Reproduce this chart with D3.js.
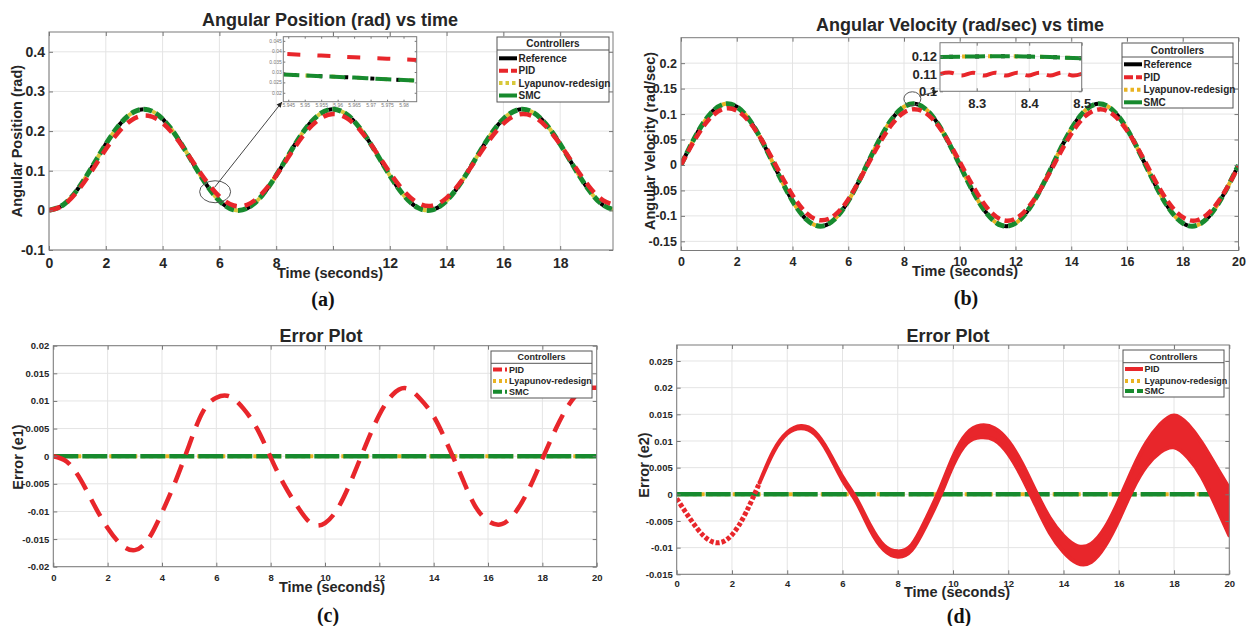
<!DOCTYPE html>
<html>
<head>
<meta charset="utf-8">
<title>Controller comparison</title>
<script src="https://cdn.jsdelivr.net/npm/d3@7"></script>
<style>
body { margin: 0; background: #fff; }
svg text { font-family: "Liberation Sans", Arial, sans-serif; font-weight: bold; fill: #262626; }
</style>
</head>
<body>
<script>
// sample times (seconds)
var time = [0,0.5,1,1.5,2,2.5,3,3.5,4,4.5,5,5.5,6,6.5,7,7.5,8,8.5,9,9.5,10,
            10.5,11,11.5,12,12.5,13,13.5,14,14.5,15,15.5,16,16.5,17,17.5,18,18.5,19,19.5,20];

var controllers = ["Reference", "PID", "Lyapunov-redesign", "SMC"];

// (a) angular position (rad)
var posRef = [0,0.0139,0.0525,0.1076,0.167,0.2176,0.2488,0.2535,0.2306,0.1854,0.1275,
              0.0696,0.0244,0.0015,0.0062,0.0374,0.0881,0.1474,0.2025,0.2411,0.255,
              0.2411,0.2025,0.1474,0.0881,0.0374,0.0062,0.0015,0.0244,0.0696,0.1275,
              0.1854,0.2306,0.2535,0.2488,0.2176,0.167,0.1076,0.0525,0.0139,0];
var posPid = [0,0.0129,0.0483,0.0988,0.154,0.2016,0.2318,0.2385,0.2204,0.1809,0.1295,
              0.0776,0.035,0.0123,0.0148,0.0424,0.0879,0.1422,0.1933,0.2289,0.2429,
              0.2319,0.1985,0.1494,0.0956,0.0486,0.0185,0.0119,0.0316,0.0718,0.1241,
              0.1766,0.2189,0.2412,0.2386,0.2116,0.1665,0.1126,0.062,0.0259,0.0124];
// Lyapunov-redesign and SMC lie on the reference at this scale
var posLyap = posRef, posSmc = posRef;

// (b) angular velocity (rad/sec)
var velRef = [0,0.0546,0.0972,0.1188,0.1143,0.085,0.0371,-0.0188,-0.0707,-0.1071,-0.1202,
              -0.1071,-0.0707,-0.0188,0.0371,0.085,0.1143,0.1188,0.0972,0.0546,0,
              -0.0546,-0.0972,-0.1188,-0.1143,-0.085,-0.0371,0.0188,0.0707,0.1071,0.1202,
              0.1071,0.0707,0.0188,-0.0371,-0.085,-0.1143,-0.1188,-0.0972,-0.0546,0];
var velPid = [0,0.0499,0.0893,0.1097,0.1067,0.0815,0.0393,-0.0108,-0.0592,-0.0945,-0.1087,
              -0.0993,-0.0677,-0.0199,0.0309,0.075,0.1031,0.1088,0.0917,0.0546,0.0062,
              -0.0441,-0.0854,-0.1075,-0.1055,-0.0805,-0.0379,0.013,0.0614,0.0958,0.1092,
              0.0991,0.0677,0.0216,-0.0296,-0.0745,-0.1025,-0.1088,-0.0907,-0.0529,-0.0033];
var velLyap = velRef, velSmc = velRef;

// (c) position error e1
var e1Pid = [0,-0.001,-0.0042,-0.0088,-0.013,-0.016,-0.017,-0.015,-0.0102,-0.0045,0.002,
             0.008,0.0106,0.0108,0.0086,0.005,-0.0002,-0.0052,-0.0092,-0.0122,-0.0121,
             -0.0092,-0.004,0.002,0.0075,0.0112,0.0123,0.0104,0.0072,0.0022,-0.0034,
             -0.0088,-0.0117,-0.0123,-0.0102,-0.006,-0.0005,0.005,0.0095,0.012,0.0124];

// (d) velocity error e2 and half width of its chattering band
var e2Pid = [-0.0008,-0.0047,-0.0079,-0.0091,-0.0076,-0.0035,0.0022,0.008,0.0115,0.0126,0.0115,
             0.0078,0.003,-0.0011,-0.0062,-0.01,-0.0112,-0.01,-0.0055,0,0.0062,
             0.0105,0.0118,0.0113,0.0088,0.0045,-0.0008,-0.0058,-0.0093,-0.0113,-0.011,
             -0.008,-0.003,0.0028,0.0075,0.0105,0.0118,0.01,0.0065,0.0017,-0.0033];
var e2Chatter = [0,0,0,0,0,0,0,0.0001,0.0001,0.0002,0.0002,
                 0.0002,0.0003,0.0003,0.0004,0.0004,0.0005,0.0005,0.0006,0.0007,0.0008,
                 0.0009,0.0011,0.0011,0.0012,0.0013,0.0013,0.0014,0.0015,0.0016,0.0017,
                 0.0017,0.0018,0.0019,0.0022,0.0026,0.003,0.0031,0.0032,0.0037,0.0044];
var zeroT = [0, 20], errLyap = [0, 0], errSmc = [0, 0];

// zoom insets
var insetAT = [5.9435, 5.955, 5.965, 5.975, 5.984];
var insetARef = [0.0288, 0.028, 0.0273, 0.0265, 0.0258];
var insetAPid = [0.0387, 0.0379, 0.0371, 0.0364, 0.0358];
var insetBT = [8.23, 8.3, 8.35, 8.4, 8.45, 8.5];
var insetBRef = [0.1198, 0.1201, 0.1202, 0.12, 0.1196, 0.119];
var insetBPidT = [8.23,8.251,8.272,8.293,8.314,8.335,8.356,8.377,8.398,8.419,8.44,8.461,8.482,8.503];
var insetBPid = [0.1099,0.1107,0.1091,0.1107,0.1091,0.1107,0.1091,0.1107,0.1091,0.1107,0.1091,0.1107,0.1091,0.1104];

var xTicks = [0,2,4,6,8,10,12,14,16,18,20];
var posTicks = [-0.1,0,0.1,0.2,0.3,0.4];
var velTicks = [-0.15,-0.1,-0.05,0,0.05,0.1,0.15,0.2];
var e1Ticks = [-0.02,-0.015,-0.01,-0.005,0,0.005,0.01,0.015,0.02];
var e2Ticks = [-0.015,-0.01,-0.005,0,0.005,0.01,0.015,0.02,0.025];
var insetAXTicks = [5.945,5.95,5.955,5.96,5.965,5.97,5.975,5.98];
var insetAYTicks = [0.02,0.025,0.03,0.035,0.04,0.045];
var insetBXTicks = [8.3,8.4,8.5];
var insetBYTicks = [0.1,0.11,0.12];

var RED = "#e8262b", GREEN = "#178a2e", BLACK = "#000";

var svg = d3.select("body").append("svg").attr("width", 1247).attr("height", 626);
var clipN = 0;

function makePanel(p) {
  var x = d3.scaleLinear().domain(p.xDom).range([p.L, p.R]);
  var y = d3.scaleLinear().domain(p.yDom).range([p.B, p.T]);
  var g = svg.append("g");
  g.append("rect").attr("x", p.L).attr("y", p.T).attr("width", p.R - p.L).attr("height", p.B - p.T)
    .attr("fill", "#fff");
  if (p.grid !== false) {
    g.selectAll(null).data(p.xTicks).join("line")
      .attr("x1", d => x(d)).attr("x2", d => x(d)).attr("y1", p.T).attr("y2", p.B)
      .attr("stroke", "#e4e4e4");
    g.selectAll(null).data(p.yTicks).join("line")
      .attr("y1", d => y(d)).attr("y2", d => y(d)).attr("x1", p.L).attr("x2", p.R)
      .attr("stroke", "#e4e4e4");
  }
  var id = "clip" + (clipN++);
  svg.append("clipPath").attr("id", id).append("rect")
    .attr("x", p.L).attr("y", p.T).attr("width", p.R - p.L).attr("height", p.B - p.T);
  var plot = g.append("g").attr("clip-path", "url(#" + id + ")");
  return {x: x, y: y, g: g, plot: plot, p: p};
}

function finishPanel(pl) {
  var p = pl.p, g = pl.g.append("g");
  function style(a) {
    a.attr("font-family", null).attr("font-size", p.fs);
    a.select(".domain").remove();
    a.selectAll(".tick line").attr("stroke", "#777");
    if (p.thin) a.selectAll("text").style("font-weight", "normal").style("fill", "#777");
  }
  g.append("g").attr("transform", "translate(0," + p.B + ")")
    .call(d3.axisBottom(pl.x).tickValues(p.xTicks).tickFormat(p.xFmt || String).tickSize(-p.tk).tickPadding(p.xPad))
    .call(style);
  g.append("g").attr("transform", "translate(0," + p.T + ")")
    .call(d3.axisTop(pl.x).tickValues(p.xTicks).tickFormat("").tickSize(-p.tk))
    .call(style);
  g.append("g").attr("transform", "translate(" + p.L + ",0)")
    .call(d3.axisLeft(pl.y).tickValues(p.yTicks).tickFormat(String).tickSize(-p.tk).tickPadding(p.yPad))
    .call(style);
  g.append("g").attr("transform", "translate(" + p.R + ",0)")
    .call(d3.axisRight(pl.y).tickValues(p.yTicks).tickFormat("").tickSize(-p.tk))
    .call(style);
  g.append("rect").attr("x", p.L).attr("y", p.T).attr("width", p.R - p.L).attr("height", p.B - p.T)
    .attr("fill", "none").attr("stroke", "#7a7a7a").attr("stroke-width", 1);
}

function drawLine(pl, ts, vs, st, curve) {
  var line = d3.line().x(d => pl.x(d[0])).y(d => pl.y(d[1])).curve(curve || d3.curveNatural);
  pl.plot.append("path").datum(d3.zip(ts, vs))
    .attr("d", line).attr("fill", "none")
    .attr("stroke", st.c).attr("stroke-width", st.w)
    .attr("stroke-dasharray", st.dash || null)
    .attr("stroke-dashoffset", st.off || 0);
}

function text(t, x, y, size, rot, family) {
  var el = svg.append("text").text(t)
    .attr("text-anchor", "middle").attr("dominant-baseline", "central")
    .attr("font-size", size);
  if (family) el.style("font-family", family).style("fill", "#111");
  if (rot) el.attr("transform", "translate(" + x + "," + y + ") rotate(-90)");
  else el.attr("x", x).attr("y", y);
}

function legend(b, names, samples, fs) {
  var g = svg.append("g");
  g.append("rect").attr("x", b.L).attr("y", b.T).attr("width", b.R - b.L).attr("height", b.B - b.T)
    .attr("fill", "#fff").attr("stroke", "#555");
  g.append("line").attr("x1", b.L).attr("x2", b.R).attr("y1", b.sep).attr("y2", b.sep).attr("stroke", "#555");
  g.append("text").text("Controllers").attr("x", (b.L + b.R) / 2).attr("y", b.head)
    .attr("text-anchor", "middle").attr("dominant-baseline", "central").attr("font-size", fs);
  names.forEach(function(n, i) {
    var s = samples[n];
    g.append("line").attr("x1", b.s0).attr("x2", b.s1).attr("y1", b.rows[i]).attr("y2", b.rows[i])
      .attr("stroke", s.c).attr("stroke-width", s.w).attr("stroke-dasharray", s.dash || null);
    g.append("text").text(n).attr("x", b.tx).attr("y", b.rows[i])
      .attr("dominant-baseline", "central").attr("font-size", fs);
  });
}

function callout(cx, cy, rx, ry, x0, y0, x1, y1) {
  svg.append("ellipse").attr("cx", cx).attr("cy", cy).attr("rx", rx).attr("ry", ry)
    .attr("fill", "none").attr("stroke", "#555").attr("stroke-width", 1);
  svg.append("line").attr("x1", x0).attr("y1", y0).attr("x2", x1).attr("y2", y1)
    .attr("stroke", "#444").attr("stroke-width", 1);
  var a = Math.atan2(y1 - y0, x1 - x0), L = 6, s = 0.45;
  svg.append("path").attr("fill", "#222")
    .attr("d", "M" + x1 + "," + y1 +
      "L" + (x1 - L * Math.cos(a - s)) + "," + (y1 - L * Math.sin(a - s)) +
      "L" + (x1 - L * Math.cos(a + s)) + "," + (y1 - L * Math.sin(a + s)) + "Z");
}

// ---------- (a) angular position ----------
var stA = {
  ref: {c: BLACK, w: 4, dash: "4,22", off: -9},
  lyap: {c: "#d8c83a", w: 4, dash: "4,22", off: -22},
  pid: {c: RED, w: 4.5, dash: "12,8"},
  smc: {c: GREEN, w: 5, dash: "9,4"}
};
var pa = makePanel({L: 49, R: 613, T: 32, B: 250, xDom: [0, 19.86], yDom: [-0.1, 0.45],
  xTicks: xTicks.slice(0, 10), yTicks: posTicks, fs: 14, tk: 4, xPad: 8, yPad: 4,
  xFmt: d => d === 10 ? "" : d});
drawLine(pa, time, posRef, stA.ref);
drawLine(pa, time, posLyap, stA.lyap);
drawLine(pa, time, posSmc, stA.smc);
drawLine(pa, time, posPid, stA.pid);
finishPanel(pa);
text("Angular Position (rad) vs time", 330, 20, 18);
text("Time (seconds)", 330, 273, 14.5);
text("Angular Position (rad)", 17, 141, 14.5, true);
text("(a)", 323, 299, 20, false, '"Liberation Serif", "Times New Roman", serif');
legend({L: 497, R: 609, T: 37, B: 102, sep: 50, head: 43.5, rows: [58.3, 70.7, 83, 95.5],
        s0: 499, s1: 517, tx: 518.5}, controllers,
  {"Reference": {c: BLACK, w: 4}, "PID": {c: RED, w: 4, dash: "9,3"},
   "Lyapunov-redesign": {c: "#d8c83a", w: 4, dash: "3.5,3"}, "SMC": {c: GREEN, w: 4}}, 10);

var ia = makePanel({L: 283.3, R: 416.7, T: 36.7, B: 101.7, xDom: [5.9435, 5.984], yDom: [0.0157, 0.047],
  xTicks: insetAXTicks, yTicks: insetAYTicks, fs: 5, tk: 2, xPad: 2, yPad: 1.5, grid: false, thin: true});
drawLine(ia, insetAT, insetARef, stA.ref);
drawLine(ia, insetAT, insetARef, stA.lyap);
drawLine(ia, insetAT, insetARef, {c: GREEN, w: 4, dash: "16,7"});
drawLine(ia, insetAT, insetAPid, {c: RED, w: 4, dash: "13,17", off: -4});
finishPanel(ia);
callout(pa.x(5.85), pa.y(0.047), 15.5, 11, pa.x(5.83), pa.y(0.058), 282, 102);

// ---------- (b) angular velocity ----------
var stB = {
  ref: {c: BLACK, w: 4, dash: "4,22", off: -9},
  lyap: {c: "#e9b322", w: 4, dash: "4,22", off: -22},
  pid: {c: RED, w: 4.5, dash: "10,5"},
  smc: {c: GREEN, w: 5, dash: "9,4"}
};
var pb = makePanel({L: 681, R: 1238.5, T: 37.7, B: 250.5, xDom: [0, 20], yDom: [-0.168, 0.25],
  xTicks: xTicks, yTicks: velTicks, fs: 12.5, tk: 4, xPad: 7, yPad: 4});
drawLine(pb, time, velRef, stB.ref);
drawLine(pb, time, velLyap, stB.lyap);
drawLine(pb, time, velSmc, stB.smc);
drawLine(pb, time, velPid, stB.pid);
finishPanel(pb);
text("Angular Velocity (rad/sec) vs time", 960, 25, 18);
text("Time (seconds)", 965, 271, 14.5);
text("Angular Velocity (rad/sec)", 650, 141, 14.5, true);
text("(b)", 966, 298, 20, false, '"Liberation Serif", "Times New Roman", serif');
legend({L: 1122, R: 1233, T: 43, B: 108, sep: 57, head: 50.5, rows: [64.3, 77.3, 89.7, 102.3],
        s0: 1124, s1: 1142, tx: 1143.5}, controllers,
  {"Reference": {c: BLACK, w: 4}, "PID": {c: RED, w: 4, dash: "9,3"},
   "Lyapunov-redesign": {c: "#e9b322", w: 4, dash: "3.5,3"}, "SMC": {c: GREEN, w: 4}}, 10);

var ib = makePanel({L: 940, R: 1081.7, T: 42.7, B: 91.3, xDom: [8.23, 8.5], yDom: [0.1, 0.128],
  xTicks: insetBXTicks, yTicks: insetBYTicks, fs: 13, tk: 3, xPad: 7, yPad: 3});
drawLine(ib, insetBT, insetBRef, stB.ref);
drawLine(ib, insetBT, insetBRef, stB.lyap);
drawLine(ib, insetBT, insetBRef, {c: GREEN, w: 4, dash: "20,5"});
drawLine(ib, insetBPidT, insetBPid, {c: RED, w: 4, dash: "14,8"});
finishPanel(ib);
callout(pb.x(8.3), pb.y(0.13), 8.5, 7, pb.x(8.55), pb.y(0.135), 938, 91);

// ---------- (c) error e1 ----------
var pc = makePanel({L: 53.3, R: 596.7, T: 345.7, B: 566.7, xDom: [0, 20], yDom: [-0.02, 0.02],
  xTicks: xTicks, yTicks: e1Ticks, fs: 9.5, tk: 4, xPad: 8, yPad: 4});
drawLine(pc, zeroT, errLyap, {c: "#e9b322", w: 4, dash: "4,4"}, d3.curveLinear);
drawLine(pc, zeroT, errSmc, {c: GREEN, w: 4.5, dash: "25,4"}, d3.curveLinear);
drawLine(pc, time, e1Pid, {c: RED, w: 4.5, dash: "19,11"});
finishPanel(pc);
text("Error Plot", 321, 336, 18);
text("Time (seconds)", 332, 587, 14.5);
text("Error (e1)", 18, 457, 14.5, true);
text("(c)", 328, 615, 20, false, '"Liberation Serif", "Times New Roman", serif');
legend({L: 491, R: 592, T: 351, B: 398, sep: 363.3, head: 357.3, rows: [369.5, 381, 391.7],
        s0: 493, s1: 507, tx: 509}, controllers.slice(1),
  {"PID": {c: RED, w: 4, dash: "9,3"}, "Lyapunov-redesign": {c: "#e9b322", w: 4, dash: "3,3"},
   "SMC": {c: GREEN, w: 4, dash: "9,3"}}, 9);

// ---------- (d) error e2 ----------
var pd = makePanel({L: 676.7, R: 1229.3, T: 345, B: 574.3, xDom: [0, 20], yDom: [-0.015, 0.028],
  xTicks: xTicks, yTicks: e2Ticks, fs: 9.5, tk: 4, xPad: 6, yPad: 4});
drawLine(pd, zeroT, errLyap, {c: "#e9b322", w: 4, dash: "4,4"}, d3.curveLinear);
drawLine(pd, zeroT, errSmc, {c: GREEN, w: 4.5, dash: "25,4"}, d3.curveLinear);
var e2Rows = d3.zip(time, e2Pid, e2Chatter);
pd.plot.append("path").datum(e2Rows.filter(d => d[0] <= 3))
  .attr("d", d3.line().x(d => pd.x(d[0])).y(d => pd.y(d[1])).curve(d3.curveNatural))
  .attr("fill", "none").attr("stroke", RED).attr("stroke-width", 5).attr("stroke-dasharray", "4,2");
pd.plot.append("path").datum(e2Rows.filter(d => d[0] >= 3))
  .attr("d", d3.area().x(d => pd.x(d[0])).y0(d => pd.y(d[1] - d[2])).y1(d => pd.y(d[1] + d[2])).curve(d3.curveNatural))
  .attr("fill", RED).attr("stroke", RED).attr("stroke-width", 4).attr("stroke-linejoin", "round");
finishPanel(pd);
text("Error Plot", 948, 336, 18);
text("Time (seconds)", 957, 592, 14.5);
text("Error (e2)", 644, 465, 14.5, true);
text("(d)", 959, 616, 20, false, '"Liberation Serif", "Times New Roman", serif');
legend({L: 1123, R: 1224, T: 350, B: 397, sep: 362.7, head: 356.7, rows: [369, 381, 391],
        s0: 1125, s1: 1143, tx: 1144.5}, controllers.slice(1),
  {"PID": {c: RED, w: 4}, "Lyapunov-redesign": {c: "#e9b322", w: 4, dash: "3,3"},
   "SMC": {c: GREEN, w: 4, dash: "9,3"}}, 9);
</script>
</body>
</html>
